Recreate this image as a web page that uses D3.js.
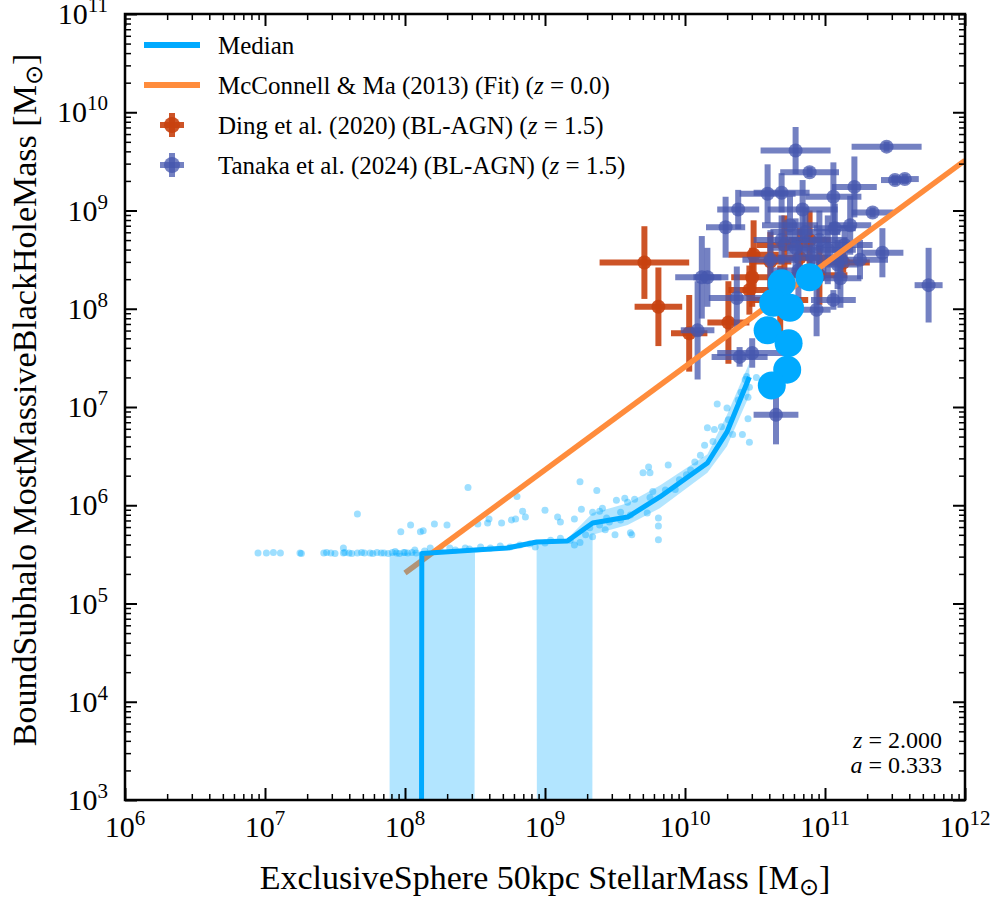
<!DOCTYPE html>
<html>
<head>
<meta charset="utf-8">
<script src="https://cdn.jsdelivr.net/npm/d3@7"></script>
<style>
  body { margin: 0; background: #fff; }
  text { font-family: "Liberation Serif", "Times New Roman", serif; fill: #000; }
</style>
</head>
<body>
<div id="chart"></div>
<script>
"use strict";

// all masses as log10(M / Msun); null means a zero value (clipped on the log axis)
var medianLogM = [7.89, 8.12, 8.50, 8.73, 8.94, 9.16, 9.34, 9.59, 9.82, 10.16, 10.30, 10.46];
var medianLogBH = [null, 5.51, 5.545, 5.565, 5.626, 5.636, 5.819, 5.880, 6.084, 6.430, 6.746, 7.305];
var bandLoLogBH = [null, null, 5.52, 5.545, 5.60, null, 5.70, 5.80, 5.97, 6.33, 6.60, 7.12];
var bandHiLogBH = [5.51, 5.525, 5.56, 5.585, 5.645, 5.66, 5.92, 6.02, 6.20, 6.52, 6.92, 7.45];

var dotLogM = [6.95, 7.01, 7.06, 7.11, 7.25, 7.26, 7.42, 7.44, 7.47, 7.50, 7.56, 7.57, 7.60, 7.62, 7.66,
  7.69, 7.71, 7.75, 7.77, 7.80, 7.83, 7.85, 7.88, 7.91, 7.94, 7.96, 7.99, 8.02, 8.05, 8.08,
  7.66, 7.56, 8.45, 7.97, 8.04, 8.11, 8.13, 8.21, 8.30, 8.52, 8.59, 8.60, 8.69, 8.76, 8.79,
  8.80, 8.84, 8.86, 9.00, 9.09, 9.11, 9.21, 9.25, 9.26, 9.37, 9.34, 9.39, 9.41, 9.44, 9.51,
  9.57, 9.59, 9.64, 9.54, 9.70, 9.74, 9.75, 9.88, 9.77, 9.75, 9.81, 9.81, 9.81, 9.73, 9.61,
  9.62, 9.50, 9.34, 9.25, 10.16, 10.23, 10.20, 10.26, 10.34, 10.07, 10.01, 9.93, 10.30, 10.41, 10.46,
  10.45, 10.43, 10.45, 10.46, 10.51, 10.44,
  7.93, 8.00, 8.07, 8.14, 8.18, 8.25, 8.32, 8.36, 8.43, 8.46, 8.54, 8.61, 8.68, 8.75, 8.82,
  8.89, 8.93, 9.00, 9.04, 9.11, 9.18, 9.21, 9.29, 9.32, 9.39, 9.43, 9.46, 9.54, 9.61, 9.86,
  9.96, 10.04, 10.11, 10.14, 10.21, 10.31, 10.38, 10.40];
var dotLogBH = [5.515, 5.515, 5.52, 5.515, 5.515, 5.51, 5.515, 5.52, 5.515, 5.51, 5.515, 5.52, 5.515, 5.51, 5.515,
  5.52, 5.515, 5.515, 5.51, 5.52, 5.515, 5.515, 5.51, 5.52, 5.515, 5.51, 5.52, 5.515, 5.52, 5.515,
  5.91, 5.565, 6.18, 5.73, 5.80, 5.73, 5.74, 5.81, 5.80, 5.81, 5.82, 5.86, 5.82, 5.85, 5.86,
  6.09, 5.94, 5.88, 5.95, 5.88, 5.83, 5.86, 6.24, 5.96, 6.15, 5.93, 5.94, 5.97, 5.87, 6.05,
  6.07, 6.03, 6.06, 5.93, 6.33, 6.39, 6.33, 6.41, 6.14, 6.08, 5.87, 5.79, 5.65, 5.92, 5.72,
  5.70, 5.70, 5.68, 5.62, 6.79, 7.03, 6.65, 6.80, 6.72, 6.44, 6.31, 6.16, 6.99, 6.72, 6.64,
  6.88, 7.28, 7.10, 7.20, 7.30, 7.31,
  5.53, 5.52, 5.545, 5.535, 5.565, 5.555, 5.565, 5.545, 5.565, 5.555, 5.575, 5.565, 5.585, 5.575, 5.595,
  5.605, 5.575, 5.615, 5.645, 5.665, 5.645, 5.595, 5.70, 5.77, 5.80, 5.75, 5.83, 5.85, 5.90, 6.155,
  6.26, 6.36, 6.51, 6.61, 6.77, 6.87, 7.07, 7.15];

// most massive objects, drawn as large markers
var bigLogM = [10.69, 10.89, 10.63, 10.75, 10.59, 10.74, 10.73, 10.62];
var bigLogBH = [8.26, 8.32, 8.06, 8.01, 7.78, 7.65, 7.38, 7.22];

// McConnell & Ma (2013) fit, end points
var mcmaLogM = [8.0, 12.0];
var mcmaLogBH = [5.31, 9.51];

var dingLogM = [9.71, 9.81, 10.03, 10.31, 10.49, 10.48, 10.46, 11.13, 10.71, 10.82, 10.89, 10.61, 10.68, 10.96];
var dingLogBH = [8.47, 8.02, 7.75, 7.86, 8.55, 8.32, 8.19, 8.47, 8.65, 8.52, 8.70, 8.48, 8.09, 8.34];
var dingErrM = [0.32, 0.17, 0.13, 0.15, 0.18, 0.15, 0.15, 0.19, 0.20, 0.20, 0.15, 0.15, 0.20, 0.20];
var dingErrBH = [0.37, 0.40, 0.39, 0.42, 0.35, 0.30, 0.25, 0.10, 0.30, 0.30, 0.30, 0.30, 0.35, 0.30];

var tanakaLogM = [10.79, 11.44, 10.89, 11.50, 11.57, 11.21, 10.59, 10.69, 10.38, 10.84, 10.29, 11.34, 11.06,
  11.41, 11.74, 10.12, 10.16, 10.37, 11.06, 10.94, 10.09, 10.39, 10.48, 10.65, 10.75, 10.86, 10.96,
  11.07, 11.14, 10.79, 10.91, 11.02, 11.18, 10.69, 11.25, 10.61, 10.81, 11.09, 11.11];
var tanakaLogBH = [9.61, 9.65, 9.39, 9.31, 9.32, 9.24, 9.17, 9.18, 9.01, 9.01, 8.83, 8.98, 9.14,
  8.57, 8.24, 8.32, 8.32, 8.11, 8.09, 7.99, 7.78, 7.51, 7.55, 6.92, 8.85, 8.78, 8.70,
  8.82, 8.65, 8.62, 8.52, 8.60, 8.85, 8.70, 8.50, 8.50, 8.39, 8.45, 8.31];
var tanakaErrM = [0.25, 0.25, 0.21, 0.10, 0.10, 0.16, 0.20, 0.20, 0.15, 0.25, 0.14, 0.15, 0.20,
  0.15, 0.10, 0.19, 0.10, 0.20, 0.16, 0.10, 0.12, 0.20, 0.25, 0.16, 0.20, 0.25, 0.20,
  0.15, 0.20, 0.20, 0.25, 0.20, 0.15, 0.20, 0.20, 0.20, 0.20, 0.15, 0.15];
var tanakaErrBH = [0.24, 0.05, 0.05, 0.05, 0.05, 0.31, 0.30, 0.20, 0.20, 0.30, 0.31, 0.05, 0.35,
  0.25, 0.38, 0.42, 0.30, 0.32, 0.10, 0.27, 0.50, 0.10, 0.15, 0.30, 0.30, 0.25, 0.30,
  0.25, 0.20, 0.30, 0.20, 0.35, 0.30, 0.25, 0.20, 0.30, 0.30, 0.25, 0.30];

var xTickExp = [6, 7, 8, 9, 10, 11, 12];
var yTickExp = [3, 4, 5, 6, 7, 8, 9, 10, 11];

var legendLabels = ["Median", "McConnell & Ma (2013) (Fit) (", "Ding et al. (2020) (BL-AGN) (", "Tanaka et al. (2024) (BL-AGN) ("];
var legendZ = [null, "0.0", "1.5", "1.5"];

var w = 996,
  h = 900;
var box = { left: 125, right: 965, top: 14, bottom: 800 };

var cMedian = "#00aaff",
  cFit = "#ff8c3c",
  cDing = "#c8410f",
  cTanaka = "#4557ad";

var svg = d3.select("#chart").append("svg").attr("width", w).attr("height", h);

var x = d3.scaleLog().domain([1e6, 1e12]).range([box.left, box.right]);
var y = d3.scaleLog().domain([1e3, 1e11]).range([box.bottom, box.top]);

// zero values are clipped to a tiny number, like matplotlib does on log axes
var lin = function (v) {
  return v === null ? 1e-300 : Math.pow(10, v);
};

svg.append("clipPath").attr("id", "clip")
  .append("rect")
  .attr("x", box.left).attr("y", box.top)
  .attr("width", box.right - box.left).attr("height", box.bottom - box.top);

var plot = svg.append("g").attr("clip-path", "url(#clip)");

/**
 * Draw one series of points with x and y error bars.
 */
var drawErrorbars = function (logM, logBH, errM, errBH, color, alpha) {
  var g = plot.append("g");
  var idx = d3.range(logM.length);
  g.selectAll("line.xerr").data(idx).join("line")
    .attr("class", "xerr")
    .attr("x1", function (i) { return x(lin(logM[i] - errM[i])); })
    .attr("x2", function (i) { return x(lin(logM[i] + errM[i])); })
    .attr("y1", function (i) { return y(lin(logBH[i])); })
    .attr("y2", function (i) { return y(lin(logBH[i])); })
    .attr("stroke", color).attr("stroke-width", 6).attr("stroke-opacity", alpha);
  g.selectAll("line.yerr").data(idx).join("line")
    .attr("class", "yerr")
    .attr("x1", function (i) { return x(lin(logM[i])); })
    .attr("x2", function (i) { return x(lin(logM[i])); })
    .attr("y1", function (i) { return y(lin(logBH[i] - errBH[i])); })
    .attr("y2", function (i) { return y(lin(logBH[i] + errBH[i])); })
    .attr("stroke", color).attr("stroke-width", 6).attr("stroke-opacity", alpha);
  g.selectAll("circle").data(idx).join("circle")
    .attr("cx", function (i) { return x(lin(logM[i])); })
    .attr("cy", function (i) { return y(lin(logBH[i])); })
    .attr("r", 7)
    .attr("fill", color).attr("fill-opacity", alpha);
};

drawErrorbars(dingLogM, dingLogBH, dingErrM, dingErrBH, cDing, 0.9);
drawErrorbars(tanakaLogM, tanakaLogBH, tanakaErrM, tanakaErrBH, cTanaka, 0.75);

// simulated galaxies
plot.append("g").selectAll("circle")
  .data(d3.range(dotLogM.length))
  .join("circle")
  .attr("cx", function (i) { return x(lin(dotLogM[i])); })
  .attr("cy", function (i) { return y(lin(dotLogBH[i])); })
  .attr("r", 3.5)
  .attr("fill", cMedian)
  .attr("fill-opacity", 0.38);

plot.append("path")
  .datum(d3.range(mcmaLogM.length))
  .attr("d", d3.line()
    .x(function (i) { return x(lin(mcmaLogM[i])); })
    .y(function (i) { return y(lin(mcmaLogBH[i])); }))
  .attr("fill", "none")
  .attr("stroke", cFit)
  .attr("stroke-width", 5.5);

plot.append("path")
  .datum(d3.range(medianLogM.length))
  .attr("d", d3.area()
    .x(function (i) { return x(lin(medianLogM[i])); })
    .y0(function (i) { return y(lin(bandLoLogBH[i])); })
    .y1(function (i) { return y(lin(bandHiLogBH[i])); }))
  .attr("fill", cMedian)
  .attr("fill-opacity", 0.3);

plot.append("path")
  .datum(d3.range(medianLogM.length))
  .attr("d", d3.line()
    .x(function (i) { return x(lin(medianLogM[i])); })
    .y(function (i) { return y(lin(medianLogBH[i])); }))
  .attr("fill", "none")
  .attr("stroke", cMedian)
  .attr("stroke-width", 5)
  .attr("stroke-linejoin", "round");

plot.append("g").selectAll("circle")
  .data(d3.range(bigLogM.length))
  .join("circle")
  .attr("cx", function (i) { return x(lin(bigLogM[i])); })
  .attr("cy", function (i) { return y(lin(bigLogBH[i])); })
  .attr("r", 14)
  .attr("fill", cMedian);

// ticks on all four sides, pointing inwards
var minorTicks = function (exps) {
  var out = [];
  exps.slice(0, -1).forEach(function (e) {
    for (var k = 2; k < 10; k++) out.push(k * Math.pow(10, e));
  });
  return out;
};
var decades = function (exps) {
  return exps.map(function (e) { return Math.pow(10, e); });
};

var addTicks = function (axis, tx, ty, width) {
  var g = svg.append("g")
    .attr("transform", "translate(" + tx + "," + ty + ")")
    .call(axis);
  g.select(".domain").remove();
  g.selectAll(".tick line").attr("stroke", "#000").attr("stroke-width", width);
};

[[12, decades, 2], [6, minorTicks, 1.5]].forEach(function (t) {
  addTicks(d3.axisBottom(x).tickValues(t[1](xTickExp)).tickSize(-t[0]).tickFormat(""), 0, box.bottom, t[2]);
  addTicks(d3.axisTop(x).tickValues(t[1](xTickExp)).tickSize(-t[0]).tickFormat(""), 0, box.top, t[2]);
  addTicks(d3.axisLeft(y).tickValues(t[1](yTickExp)).tickSize(-t[0]).tickFormat(""), box.left, 0, t[2]);
  addTicks(d3.axisRight(y).tickValues(t[1](yTickExp)).tickSize(-t[0]).tickFormat(""), box.right, 0, t[2]);
});

svg.append("rect")
  .attr("x", box.left).attr("y", box.top)
  .attr("width", box.right - box.left).attr("height", box.bottom - box.top)
  .attr("fill", "none")
  .attr("stroke", "#000")
  .attr("stroke-width", 2.5);

var powerLabel = function (sel) {
  sel.each(function (e) {
    var t = d3.select(this);
    t.append("tspan").text("10");
    t.append("tspan").attr("dy", "-12px").style("font-size", "21px").text(e);
  });
};

svg.append("g").selectAll("text")
  .data(xTickExp)
  .join("text")
  .attr("x", function (e) { return x(Math.pow(10, e)); })
  .attr("y", box.bottom + 37)
  .attr("text-anchor", "middle")
  .style("font-size", "30px")
  .call(powerLabel);

svg.append("g").selectAll("text")
  .data(yTickExp)
  .join("text")
  .attr("x", box.left - 17)
  .attr("y", function (e) { return y(Math.pow(10, e)) + 10; })
  .attr("text-anchor", "end")
  .style("font-size", "30px")
  .call(powerLabel);

var solarUnit = function (t) {
  t.append("tspan").text("[M");
  t.append("tspan").attr("dy", "0.25em").style("font-size", "0.7em").text("\u2299");
  t.append("tspan").attr("dy", "-0.175em").text("]");
};

var xTitle = svg.append("text")
  .attr("x", 545)
  .attr("y", 889)
  .attr("text-anchor", "middle")
  .style("font-size", "34px");
xTitle.append("tspan").text("ExclusiveSphere 50kpc StellarMass ");
solarUnit(xTitle);

var yTitle = svg.append("text")
  .attr("transform", "translate(36,400) rotate(-90)")
  .attr("text-anchor", "middle")
  .style("font-size", "34px");
yTitle.append("tspan").text("BoundSubhalo MostMassiveBlackHoleMass ");
solarUnit(yTitle);

// legend
var legend = svg.append("g").style("font-size", "25px");
var legendY = [45, 85, 125, 165];

[cMedian, cFit].forEach(function (c, i) {
  legend.append("line")
    .attr("x1", 144).attr("x2", 200)
    .attr("y1", legendY[i]).attr("y2", legendY[i])
    .attr("stroke", c).attr("stroke-width", 6);
});
[[cDing, 0.9], [cTanaka, 0.75]].forEach(function (c, j) {
  var cy = legendY[j + 2];
  legend.append("line").attr("x1", 160).attr("x2", 184).attr("y1", cy).attr("y2", cy)
    .attr("stroke", c[0]).attr("stroke-width", 6).attr("stroke-opacity", c[1]);
  legend.append("line").attr("x1", 172).attr("x2", 172).attr("y1", cy - 12).attr("y2", cy + 12)
    .attr("stroke", c[0]).attr("stroke-width", 6).attr("stroke-opacity", c[1]);
  legend.append("circle").attr("cx", 172).attr("cy", cy).attr("r", 8)
    .attr("fill", c[0]).attr("fill-opacity", c[1]);
});

legendLabels.forEach(function (label, i) {
  var t = legend.append("text").attr("x", 218).attr("y", legendY[i] + 9);
  t.append("tspan").text(label);
  if (legendZ[i] !== null) {
    t.append("tspan").style("font-style", "italic").text("z");
    t.append("tspan").text(" = " + legendZ[i] + ")");
  }
});

// redshift / scale factor note
var note = [["z", "2.000"], ["a", "0.333"]];
note.forEach(function (n, i) {
  var t = svg.append("text")
    .attr("x", 942)
    .attr("y", 748 + i * 25)
    .attr("text-anchor", "end")
    .style("font-size", "24px");
  t.append("tspan").style("font-style", "italic").text(n[0]);
  t.append("tspan").text(" = " + n[1]);
});
</script>
</body>
</html>
